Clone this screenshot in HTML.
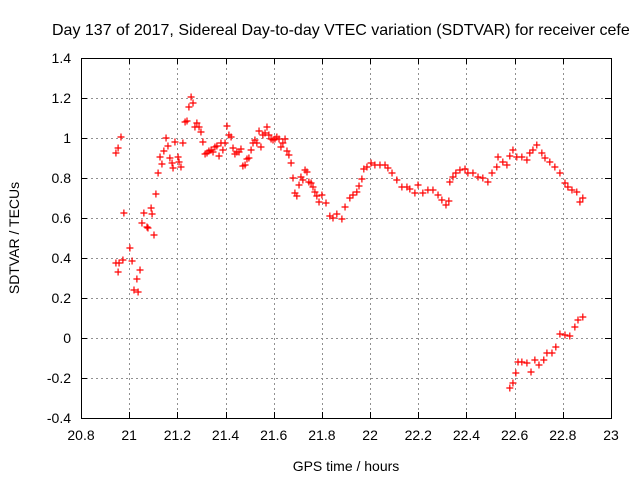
<!DOCTYPE html>
<html><head><meta charset="utf-8"><style>
body{margin:0;background:#fff;overflow:hidden}
svg{display:block;font-family:"Liberation Sans",sans-serif}
</style></head><body>
<svg id="chart" width="640" height="480" viewBox="0 0 640 480">
<text x="52" y="35" font-size="16">Day 137 of 2017, Sidereal Day-to-day VTEC variation (SDTVAR) for receiver cefe</text>
<g id="grid"></g>
<g id="axes"></g>
<g id="marks"></g>
<text transform="translate(19,238) rotate(-90)" text-anchor="middle" font-size="14">SDTVAR / TECUs</text>
<text x="346" y="471" text-anchor="middle" font-size="14">GPS time / hours</text>
</svg>
<script>
const xTicks=[20.8,21,21.2,21.4,21.6,21.8,22,22.2,22.4,22.6,22.8,23];
const xTickLabels=["20.8","21","21.2","21.4","21.6","21.8","22","22.2","22.4","22.6","22.8","23"];
const yTicks=[-0.4,-0.2,0,0.2,0.4,0.6,0.8,1,1.2,1.4];
const yTickLabels=["-0.4","-0.2","0","0.2","0.4","0.6","0.8","1","1.2","1.4"];
const times=[20.945,20.954,20.966,20.945,20.958,20.974,20.954,20.978,21.003,21.012,21.020,21.032,21.037,21.045,21.053,21.061,21.074,21.078,21.091,21.095,21.103,21.111,21.120,21.128,21.136,21.144,21.153,21.161,21.169,21.178,21.182,21.190,21.203,21.207,21.215,21.223,21.232,21.240,21.248,21.257,21.265,21.273,21.281,21.290,21.298,21.306,21.315,21.323,21.331,21.340,21.348,21.356,21.364,21.373,21.381,21.389,21.398,21.406,21.414,21.423,21.431,21.439,21.447,21.456,21.464,21.472,21.481,21.489,21.497,21.506,21.514,21.522,21.530,21.539,21.547,21.555,21.564,21.572,21.580,21.589,21.597,21.605,21.613,21.622,21.630,21.638,21.647,21.655,21.663,21.672,21.680,21.688,21.696,21.705,21.713,21.721,21.730,21.738,21.746,21.755,21.763,21.771,21.779,21.788,21.800,21.817,21.833,21.846,21.862,21.883,21.896,21.916,21.929,21.945,21.954,21.966,21.974,21.987,22.004,22.020,22.041,22.062,22.074,22.091,22.111,22.132,22.153,22.165,22.186,22.199,22.219,22.240,22.261,22.282,22.298,22.315,22.327,22.331,22.344,22.356,22.373,22.394,22.406,22.427,22.448,22.468,22.489,22.506,22.526,22.531,22.551,22.568,22.580,22.593,22.609,22.630,22.651,22.663,22.676,22.692,22.713,22.726,22.746,22.767,22.788,22.809,22.821,22.838,22.858,22.871,22.883,22.580,22.593,22.605,22.614,22.630,22.651,22.668,22.684,22.701,22.721,22.734,22.755,22.771,22.788,22.809,22.829,22.850,22.863,22.883];
const values=[0.925,0.95,1.005,0.375,0.375,0.39,0.33,0.625,0.45,0.385,0.24,0.295,0.23,0.34,0.575,0.625,0.555,0.55,0.65,0.62,0.515,0.72,0.825,0.905,0.87,0.935,1.0,0.96,0.90,0.875,0.85,0.98,0.905,0.88,0.855,0.975,1.08,1.085,1.155,1.205,1.175,1.055,1.075,1.055,1.03,0.98,0.92,0.925,0.935,0.94,0.93,0.955,0.96,0.91,0.975,0.94,0.975,1.06,1.015,1.005,0.95,0.92,0.93,0.93,0.945,0.86,0.865,0.895,0.90,0.94,0.975,0.99,0.975,1.035,0.955,1.015,1.025,1.055,1.015,0.995,0.99,0.995,1.005,0.995,0.955,0.975,0.995,0.935,0.915,0.875,0.80,0.725,0.71,0.765,0.805,0.79,0.84,0.83,0.78,0.775,0.755,0.73,0.71,0.68,0.715,0.675,0.61,0.60,0.62,0.595,0.655,0.70,0.715,0.73,0.76,0.795,0.845,0.855,0.875,0.865,0.865,0.865,0.85,0.825,0.79,0.755,0.755,0.745,0.725,0.765,0.725,0.74,0.74,0.715,0.69,0.665,0.685,0.78,0.805,0.825,0.84,0.845,0.825,0.825,0.805,0.80,0.78,0.825,0.855,0.905,0.88,0.865,0.91,0.94,0.905,0.905,0.89,0.925,0.94,0.965,0.925,0.90,0.88,0.855,0.825,0.775,0.755,0.74,0.73,0.68,0.70,-0.25,-0.225,-0.175,-0.12,-0.12,-0.125,-0.17,-0.11,-0.135,-0.11,-0.075,-0.075,-0.045,0.02,0.015,0.01,0.055,0.09,0.105];

const L=81,R=611,T=58,B=418;
const xMin=20.8,xMax=23,yMin=-0.4,yMax=1.4;
const sx=v=>L+(v-xMin)/(xMax-xMin)*(R-L);
const sy=v=>B-(v-yMin)/(yMax-yMin)*(B-T);
const NS="http://www.w3.org/2000/svg";
function mk(parent,tag,attrs){const e=document.createElementNS(NS,tag);for(const k in attrs)e.setAttribute(k,attrs[k]);parent.appendChild(e);return e;}
const grid=document.getElementById('grid'),axes=document.getElementById('axes'),marks=document.getElementById('marks');
xTicks.forEach((t,i)=>{
  const x=sx(t);
  const xs=Math.round(x)+0.5;
  if(i>0&&i<xTicks.length-1){const g=mk(grid,'line',{x1:xs,y1:T,x2:xs,y2:B,stroke:'#909090','stroke-width':'1','stroke-dasharray':'2,3'});
  
  }
  mk(axes,'line',{x1:xs,y1:B,x2:xs,y2:B-6,stroke:'#000'});
  mk(axes,'line',{x1:xs,y1:T,x2:xs,y2:T+6,stroke:'#000'});
  const tx=mk(axes,'text',{x:x,y:B+22,'text-anchor':'middle','font-size':'14'});
  tx.textContent=xTickLabels[i];
  
  
});
yTicks.forEach((t,i)=>{
  const y=sy(t);
  const ys=Math.round(y)+0.5;
  if(i>0&&i<yTicks.length-1){const g=mk(grid,'line',{x1:L,y1:ys,x2:R,y2:ys,stroke:'#909090','stroke-width':'1','stroke-dasharray':'2,3'});
  
  }
  mk(axes,'line',{x1:L,y1:ys,x2:L+6,y2:ys,stroke:'#000'});
  mk(axes,'line',{x1:R,y1:ys,x2:R-6,y2:ys,stroke:'#000'});
  const ty=mk(axes,'text',{x:L-10,y:y+5,'text-anchor':'end','font-size':'14'});
  ty.textContent=yTickLabels[i];
  
  
});
const fr=mk(axes,'rect',{x:L+0.5,y:T+0.5,width:R-L,height:B-T,fill:'none',stroke:'#000'});


times.forEach((t,i)=>{
  const x=sx(t),y=sy(values[i]);
  const p=mk(marks,'path',{d:`M${x-3.5},${y}H${x+3.5}M${x},${y-3.5}V${y+3.5}`,stroke:'#ff0000','stroke-width':'1.2',fill:'none'});
  
  
});
</script>
</body></html>
